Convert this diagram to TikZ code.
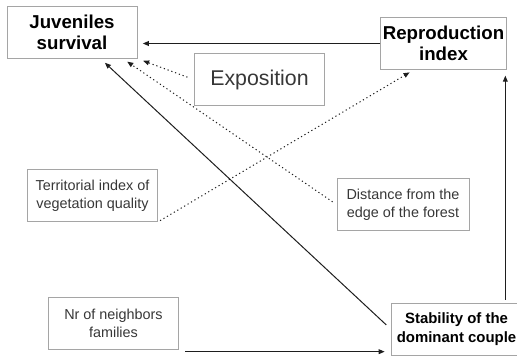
\documentclass[tikz,border=0pt]{standalone}
\usepackage{fontspec}
\setmainfont{Liberation Sans}
\usetikzlibrary{arrows.meta}

\tikzset{every picture/.style={line width=0.75pt}}
\tikzset{
  varbox/.style={draw={rgb, 255:red, 165; green, 165; blue, 165 }, align=center, inner sep=0pt, minimum width=98pt, minimum height=38.5pt},
  keybox/.style={varbox, text=black, font=\fontsize{14}{15.8}\selectfont\bfseries},
  factorbox/.style={varbox, text={rgb, 255:red, 55; green, 55; blue, 55 }, font=\fontsize{10.8}{13.5}\selectfont},
  solidarrow/.style={draw={rgb, 255:red, 30; green, 30; blue, 30 }, -{Triangle[length=4.5pt,width=3.6pt]}},
  dotarrow/.style={solidarrow, dash pattern={on 0.9pt off 2.1pt}},
}

\begin{document}
\begin{tikzpicture}[x=0.75pt,y=0.75pt,yscale=-1,xscale=1]
	\useasboundingbox (0,0) rectangle (517,356);

	% Text Node
	\node [keybox, minimum width=97.5pt] (juv) at (72,32.5) {Juveniles\\survival};
	% Text Node
	\node [keybox, minimum width=94pt] (repro) at (443.5,43.5) {Reproduction\\index};
	% Text Node
	\node [factorbox, font=\fontsize{16}{18}\selectfont] (expo) at (259.5,79.5) {Exposition};
	% Text Node
	\node [factorbox] (terr) at (92.5,195.5) {Territorial index of\\vegetation quality};
	% Text Node
	\node [factorbox, minimum width=99pt] (dist) at (403,204.5) {Distance from the\\edge of the forest};
	% Text Node
	\node [factorbox] (nbr) at (113.5,323.5) {Nr of neighbors\\families};
	% Text Node
	\node [keybox, font=\fontsize{11.2}{14}\selectfont\bfseries, minimum height=39pt] (stab) at (456.5,329) {Stability of the\\dominant couple};

	\coordinate (nbrout) at ([yshift=1.5pt]nbr.south east);
	\coordinate (reprofoot) at ([xshift=-1pt]repro.south east);

	%Straight Lines
	\draw [solidarrow, shorten >=4pt] (repro.west) -- (juv.east |- repro.west) ;
	%Straight Lines
	\draw [dotarrow, shorten <=5pt, shorten >=4.5pt] (expo.west) -- (juv.south east) ;
	%Straight Lines
	\draw [dotarrow, shorten <=3.5pt, shorten >=4pt] (dist.west) -- ([xshift=-11pt]juv.south east) ;
	%Straight Lines
	\draw [solidarrow, shorten <=4.5pt, shorten >=4.5pt] (stab.west) -- ([xshift=-27.75pt]juv.south east) ;
	%Straight Lines
	\draw [dotarrow, shorten <=1.5pt, shorten >=4pt] (terr.south east) -- ([xshift=-22pt]repro.south) ;
	%Straight Lines
	\draw [solidarrow, shorten <=4.5pt, shorten >=4.5pt] (nbrout) -- (nbrout -| stab.west) ;
	%Straight Lines
	\draw [solidarrow, shorten <=2.25pt, shorten >=4.5pt] (stab.north -| reprofoot) -- (reprofoot) ;

\end{tikzpicture}
\end{document}
